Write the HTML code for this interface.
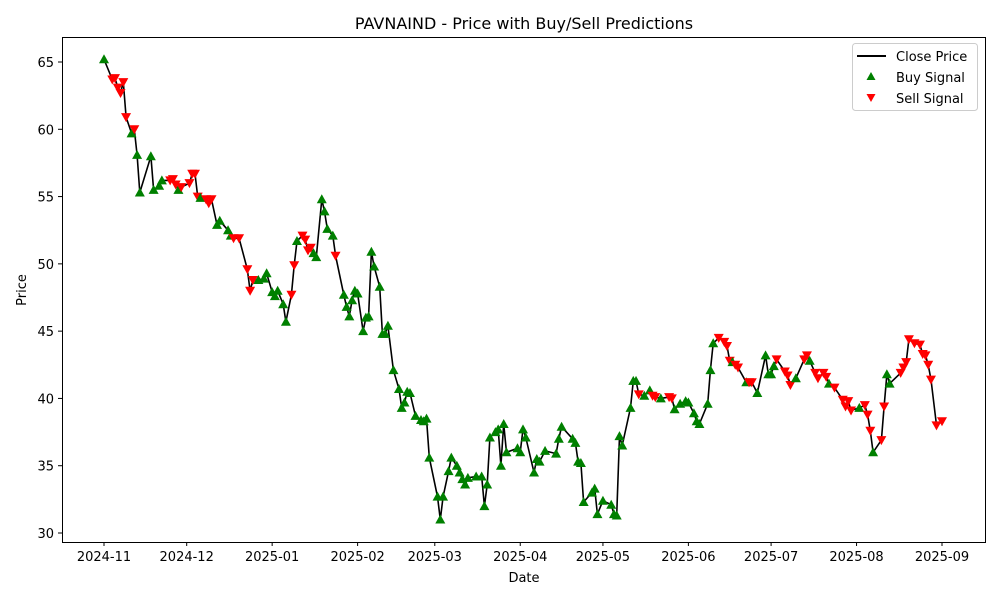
<!DOCTYPE html>
<html><head><meta charset="utf-8"><style>
body{margin:0;background:#fff;}
svg text{font-family:"DejaVu Sans","Liberation Sans",sans-serif;}
</style></head><body>
<svg id="chart" width="1000" height="600" xmlns="http://www.w3.org/2000/svg">
<rect width="1000" height="600" fill="#fff"/>
<text x="524" y="29" font-size="16" text-anchor="middle">PAVNAIND - Price with Buy/Sell Predictions</text>
<g id="plot"></g>
<g id="axes"></g>
<text x="524" y="582" font-size="13" text-anchor="middle">Date</text>
<text x="26" y="290" font-size="13" text-anchor="middle" transform="rotate(-90 26 290)">Price</text>
<g>
<rect x="852.5" y="43.5" width="125" height="67" rx="3" fill="#fff" stroke="#ccc"/>
<line x1="857" y1="56" x2="886" y2="56" stroke="#000" stroke-width="2"/>
<text x="896" y="61" font-size="13">Close Price</text>
<polygon points="871,72 875.5,80 866.5,80" fill="green"/>
<text x="896" y="82" font-size="13">Buy Signal</text>
<polygon points="866.5,94 875.5,94 871,102" fill="red"/>
<text x="896" y="103" font-size="13">Sell Signal</text>
</g>
</svg>
<script>
// days since 2024-11-01
const days=[0,3,4,5,6,7,8,10,11,12,13,17,18,20,21,24,25,26,27,28,31,32,33,34,35,37,38,39,41,42,45,46,47,49,52,53,54,56,58,59,61,62,63,65,66,68,69,70,72,73,74,75,76,77,79,80,81,83,84,87,88,89,90,91,92,94,95,96,97,98,100,101,102,103,105,107,108,109,110,111,113,115,116,117,118,121,122,123,125,126,128,129,130,131,132,135,137,138,139,140,142,143,144,145,146,150,151,152,153,156,157,158,160,164,165,166,170,171,172,173,174,177,178,179,181,184,185,186,187,188,191,192,193,194,196,198,199,200,202,205,206,207,209,211,212,214,215,216,219,220,221,223,225,226,227,228,229,230,233,234,235,237,240,241,242,243,244,247,248,249,251,254,255,256,258,259,261,262,263,265,268,269,270,271,274,276,277,278,279,282,283,284,285,289,290,291,292,294,296,297,298,299,300,302,304];
const prices=[65.2,63.7,63.8,63.1,62.7,63.5,60.9,59.7,60.0,58.1,55.3,58.0,55.5,55.8,56.2,56.2,56.3,55.9,55.5,55.7,56.0,56.7,56.7,55.0,54.9,54.8,54.5,54.8,52.9,53.2,52.5,52.1,51.9,51.9,49.6,48.0,48.8,48.8,48.9,49.3,47.9,47.6,48.0,47.0,45.7,47.7,49.9,51.7,52.1,51.8,51.0,51.2,50.8,50.5,54.8,53.9,52.6,52.1,50.6,47.7,46.8,46.1,47.3,48.0,47.8,45.0,46.0,46.1,50.9,49.8,48.3,44.8,44.8,45.4,42.1,40.7,39.3,39.7,40.5,40.4,38.7,38.4,38.3,38.5,35.6,32.7,31.0,32.7,34.6,35.6,35.0,34.5,34.0,33.6,34.1,34.2,34.2,32.0,33.6,37.1,37.5,37.7,35.0,38.1,36.0,36.3,36.0,37.7,37.1,34.5,35.5,35.3,36.1,35.9,37.0,37.9,37.0,36.7,35.3,35.2,32.3,33.0,33.3,31.4,32.4,32.1,31.4,31.3,37.2,36.5,39.3,41.3,41.3,40.3,40.2,40.6,40.2,40.1,40.0,40.1,40.0,39.2,39.6,39.8,39.7,38.9,38.3,38.1,39.6,42.1,44.1,44.5,44.2,43.9,42.8,42.7,42.5,42.3,41.2,41.2,41.2,40.4,43.2,41.8,41.8,42.4,42.9,42.0,41.7,41.0,41.5,42.9,43.2,42.8,41.9,41.5,41.9,41.6,41.1,40.8,39.9,39.4,39.8,39.1,39.3,39.5,38.8,37.6,36.0,36.9,39.4,41.8,41.1,41.9,42.3,42.7,44.4,44.1,44.0,43.3,43.2,42.5,41.4,38.0,38.3];
const signals=("BSSSSSS"+"BSBBBBBB"+"SSS"+"B"+"SSSSS"+"B"+"SSS"+"BBBB"+"SSSSS"+"BBBBBBBB"+"SS"+"B"+"SSSS"+"BBBBBB"+"S"+
  "B".repeat(74)+
  "SBBSSBSSBB"+"BBBBBBBBSS"+"SSBSSBSSBB"+"BBBSSSSBSS"+"BSSSSBSSSS"+"SBSSSBSSBB"+"SSSSSSSSSSSS").split('');
const yTicks=[30,35,40,45,50,55,60,65];
const xTickDays=[0,30,61,92,120,151,181,212,242,273,304];
const xTickLabels=["2024-11","2024-12","2025-01","2025-02","2025-03","2025-04","2025-05","2025-06","2025-07","2025-08","2025-09"];

const L=62,R=985,T=37,B=542;
const xs=d=>104+d*(838/304);
const ys=v=>533-(v-30)*(471/35);
const NS="http://www.w3.org/2000/svg";
const plot=document.getElementById('plot'),axes=document.getElementById('axes');
function mk(tag,attrs,parent){const e=document.createElementNS(NS,tag);for(const k in attrs)e.setAttribute(k,attrs[k]);parent.appendChild(e);return e;}

const n=Math.min(days.length,prices.length);
let pts=[];for(let i=0;i<n;i++)pts.push(xs(days[i]).toFixed(1)+','+ys(prices[i]).toFixed(1));
const line=mk('polyline',{points:pts.join(' '),fill:'none',stroke:'#000','stroke-width':1.6,'stroke-linejoin':'round'},plot);


for(let i=0;i<n;i++){
  const x=xs(days[i]),y=ys(prices[i]);
  let p;
  if(signals[i]==='B'){
    p=mk('polygon',{points:`${x},${y-5} ${x+5},${y+4} ${x-5},${y+4}`,fill:'green'},plot);
    
  }else{
    p=mk('polygon',{points:`${x-5},${y-4} ${x+5},${y-4} ${x},${y+5}`,fill:'red'},plot);
    
  }
  
}
const frame=mk('rect',{x:L+0.5,y:T+0.5,width:R-L,height:B-T,fill:'none',stroke:'#000','stroke-width':1},axes);


yTicks.forEach(v=>{
  const y=ys(v);
  mk('line',{x1:L-4,x2:L,y1:y,y2:y,stroke:'#000'},axes);
  const t=mk('text',{x:L-8,y:y+5,'font-size':13,'text-anchor':'end'},axes);t.textContent=v;
  
  
});
xTickDays.forEach((d,i)=>{
  const x=xs(d);
  mk('line',{x1:x,x2:x,y1:B,y2:B+4,stroke:'#000'},axes);
  const t=mk('text',{x:x,y:B+19,'font-size':13,'text-anchor':'middle'},axes);t.textContent=xTickLabels[i];
  
  
});
</script>
</body></html>
